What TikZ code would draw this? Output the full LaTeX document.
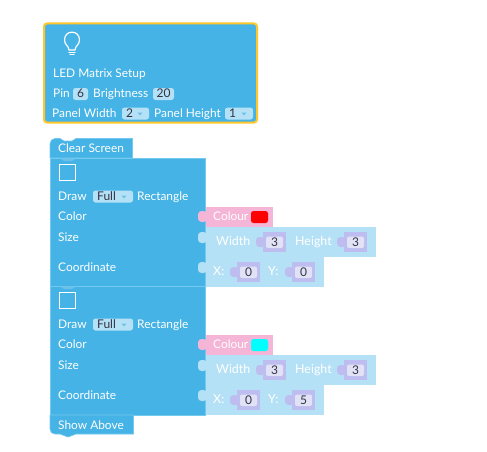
\documentclass[tikz,border=0pt]{standalone}
\usepackage{fontspec}
\setmainfont{Lato}
\definecolor{blockblue}{RGB}{69,179,229}
\definecolor{edgeblue}{RGB}{117,200,238}
\definecolor{paleblue}{RGB}{181,225,246}
\definecolor{fieldblue}{RGB}{181,225,246}
\definecolor{pinkblk}{RGB}{245,181,214}
\definecolor{purpleblk}{RGB}{189,189,240}
\definecolor{innerblk}{RGB}{226,226,246}
\definecolor{hilite}{RGB}{255,199,44}
\definecolor{txtdark}{RGB}{51,51,68}
\definecolor{swred}{RGB}{255,0,0}
\definecolor{swcyan}{RGB}{0,255,255}
\tikzset{
  lbl/.style={anchor=base west,inner sep=0pt,text=white,font=\fontsize{11.9}{13}\selectfont},
  pale/.style={anchor=base west,inner sep=0pt,text=white,font=\fontsize{12.4}{13}\selectfont},
  val/.style={anchor=base,inner sep=0pt,text=txtdark,font=\fontsize{12}{13}\selectfont},
  fieldbox/.style={fill=fieldblue,rounded corners=2.5pt},
  blockbody/.style={fill=blockblue,draw=edgeblue,line width=0.7pt},
  tri/.style={fill=blockblue!80!white,draw=none}
}
% value block: body left edge x, top y, value, name
\newcommand{\valblock}[4]{%
  \fill[purpleblk,rounded corners=3.5pt] (#1-7,#2+5) rectangle (#1+2,#2+15);
  \fill[purpleblk] (#1,#2) rectangle (#1+23,#2+20);
  \fill[innerblk,rounded corners=2pt] (#1+3,#2+4.5) rectangle (#1+20,#2+16);
  \node[val] (#4) at (#1+11.5,#2+14.5) {#3};}
\newcommand{\dropdown}[5]{%
  \fill[fieldbox] (#1,#2) rectangle (#3,#2+12);
  \node[val,anchor=base west] (#5) at (#1+4,#2+10.3) {#4};
  \fill[blockblue!80!white] (#3-11.5,#2+5) -- (#3-6.5,#2+5) -- (#3-9,#2+8) -- cycle;}
\newcommand{\drawblock}[5]{%
  \begin{scope}[yshift=-#1pt]
    \fill[paleblue] (205,69) rectangle (376,99);
    \fill[paleblue] (205,99) rectangle (324,129);
    \fill[pinkblk] (205,49) rectangle (273,69);
    \draw[blockbody] (50,0) rectangle (205,129);
    \fill[tri] (60,0.3) -- (64,3) -- (72,3) -- (76,0.3) -- cycle;
    \draw[white,line width=1.5pt] (59.7,6.7) rectangle (75.7,22.7);
    \node[lbl] (#4draw) at (58,42) {Draw};
    \dropdown{93}{32.5}{133}{Full}{#4full}
    \node[lbl] (#4rect) at (137,42) {Rectangle};
    \node[lbl] (#4color) at (58,62) {Color};
    \node[lbl] (#4size) at (58,83) {Size};
    \node[lbl] (#4coord) at (58,113) {Coordinate};
    \fill[pinkblk,rounded corners=3.5pt] (198,53) rectangle (207,64);
    \fill[paleblue,rounded corners=3.5pt] (198,74) rectangle (207,85);
    \fill[paleblue,rounded corners=3.5pt] (198,104) rectangle (207,115);
    \node[lbl] (#4colour) at (213,62) {Colour};
    \fill[#2,rounded corners=2.5pt] (251,53) rectangle (268,65);
    \node[pale] (#4width) at (216,87) {Width};
    \valblock{263}{74}{3}{#4w}
    \node[pale] (#4height) at (295,87) {Height};
    \valblock{344}{74}{3}{#4h}
    \node[pale] (#4x) at (213,117) {X:};
    \valblock{237}{104}{0}{#4xv}
    \node[pale] (#4y) at (268,117) {Y:};
    \valblock{292}{104}{#3}{#4yv}
  \end{scope}}
\begin{document}
\begin{tikzpicture}[x=1pt,y=-1pt]
\path[use as bounding box,fill=white] (0,0) rectangle (487,452);
\draw[fill=blockblue,draw=hilite,line width=2pt,rounded corners=3pt] (44,23.5) rectangle (257,122.5);
\begin{scope}[white,line width=1.2pt,line cap=round]
  \draw (69,50) .. controls (69,46) and (64.5,45) .. (64.5,40) .. controls (64.5,29.5) and (79.5,29.5) .. (79.5,40) .. controls (79.5,45) and (75,46) .. (75,50) -- cycle;
  \draw (69,52.5) -- (75,52.5);
  \draw (70,54.8) -- (74,54.8);
\end{scope}
\node[lbl] (title) at (53,77.5) {LED Matrix Setup};
\node[lbl] (pin) at (53,97.5) {Pin};
\fill[fieldbox] (73,88) rectangle (88,100);
\node[val] (pinv) at (80.5,97.5) {6};
\node[lbl] (bright) at (93,97.5) {Brightness};
\fill[fieldbox] (153,88) rectangle (174,100);
\node[val] (brightv) at (163.5,97.5) {20};
\node[lbl] (pw) at (52,117.5) {Panel Width};
\dropdown{122}{107.5}{149}{2}{pwv}
\node[lbl] (ph) at (154,117.5) {Panel Height};
\dropdown{225}{107.5}{253}{1}{phv}
\draw[blockbody] (50,158) -- (50,144) .. controls (50,141) and (52,138.5) .. (55,138.5) -- (60,138.5) -- (64,141) -- (72,141) -- (76,138.5) -- (132.5,138.5) -- (132.5,158) -- cycle;
\node[lbl] (clear) at (58,152) {Clear Screen};
\drawblock{158}{swred}{0}{a}{}
\drawblock{286}{swcyan}{5}{b}{}
\draw[blockbody] (50,415) -- (133.5,415) -- (133.5,434) -- (76,434) -- (68,437) -- (60,434) -- (55,434) .. controls (52,434) and (50,432) .. (50,429) -- cycle;
\node[lbl] (show) at (58,429) {Show Above};
\end{tikzpicture}
\end{document}
